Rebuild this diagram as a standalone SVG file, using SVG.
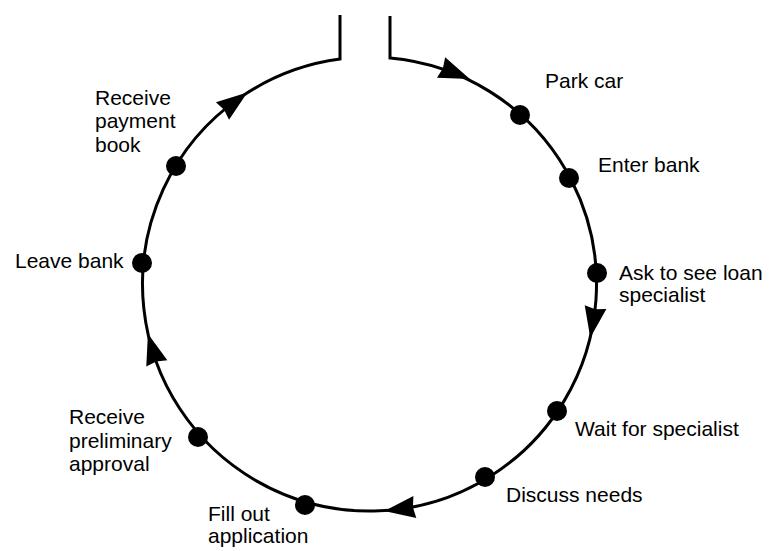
<svg xmlns="http://www.w3.org/2000/svg" width="775" height="551" viewBox="0 0 775 551">
<style>
.line{fill:none;stroke:#000;stroke-width:3;stroke-linecap:butt}
.dot{fill:#000}
.arr{fill:#000}
text{font-family:"Liberation Sans",Arial,Helvetica,sans-serif;font-size:21px;fill:#000}
</style>
<defs>
<polygon id="ah" points="16,0 -15,-11 -13,0 -15,11"/>
</defs>
<rect width="775" height="551" fill="#fff"/>
<g id="connectors">
<path class="line" d="M340,15 L340,59 A227,227 0 1,0 390,58 L390,16"/>
<use href="#ah" class="arr" transform="translate(455,73) rotate(21.8)"/>
<use href="#ah" class="arr" transform="translate(593,322) rotate(99.8)"/>
<use href="#ah" class="arr" transform="translate(400,509) rotate(172.4)"/>
<use href="#ah" class="arr" transform="translate(152.5,349) rotate(253.3)"/>
<use href="#ah" class="arr" transform="translate(234.5,102) rotate(323.3)"/>
</g>
<g id="park-car"><circle class="dot" cx="520" cy="115" r="10"/><text x="545" y="88">Park car</text></g>
<g id="enter-bank"><circle class="dot" cx="569" cy="178" r="10"/><text x="598" y="172">Enter bank</text></g>
<g id="ask-loan"><circle class="dot" cx="597" cy="273" r="10"/><text x="619" y="280">Ask to see loan</text><text x="619" y="302">specialist</text></g>
<g id="wait"><circle class="dot" cx="557" cy="411" r="10"/><text x="575" y="436">Wait for specialist</text></g>
<g id="discuss"><circle class="dot" cx="485" cy="477" r="10"/><text x="506" y="502">Discuss needs</text></g>
<g id="fill-out"><circle class="dot" cx="305" cy="505" r="10"/><text x="208" y="521">Fill out</text><text x="208" y="543">application</text></g>
<g id="prelim"><circle class="dot" cx="198" cy="437" r="10"/><text x="69" y="424">Receive</text><text x="69" y="448">preliminary</text><text x="69" y="471">approval</text></g>
<g id="leave"><circle class="dot" cx="142" cy="263" r="10"/><text x="15" y="268">Leave bank</text></g>
<g id="payment"><circle class="dot" cx="176" cy="166" r="10"/><text x="95" y="105">Receive</text><text x="95" y="128">payment</text><text x="95" y="152">book</text></g>
</svg>
